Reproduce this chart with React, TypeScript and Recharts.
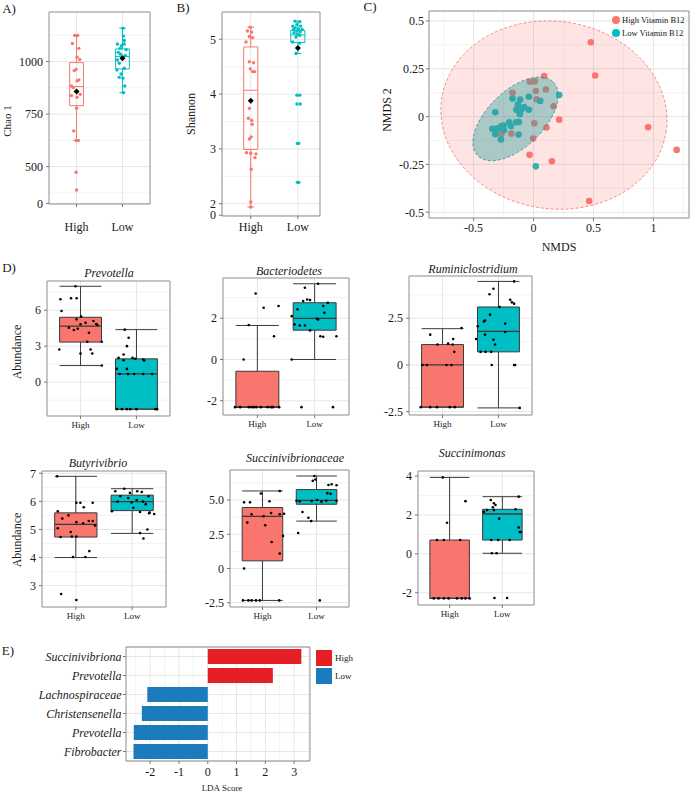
import React from "react";
import {
  Bar,
  BarChart,
  CartesianGrid,
  Cell,
  ComposedChart,
  ReferenceArea,
  ReferenceLine,
  Scatter,
  XAxis,
  YAxis,
} from "recharts";

const RED = "#F8766D";
const TEAL = "#00BFC4";
const BAR_RED = "#E41F26";
const BAR_BLUE = "#1B7BBD";
const INK = "#1a1a1a";
const FRAME = "#8c8c8c";
const GRID = "#e6e6e6";
const GRID_MINOR = "#f3f3f3";
const FONT = "'Liberation Serif', 'Times New Roman', serif";

const groups = ["High", "Low"];
const groupColors = [RED, TEAL];

// [jitter offset from the group centre, value]
type Pt = [number, number];
// lower whisker, q1, median, q3, upper whisker
type Box = [number, number, number, number, number];
type Frame = [number, number, number, number];

// A) Chao 1
const chaoTicks = [325, 500, 750, 1000];
const chaoTickLabels = ["0", "500", "750", "1000"];
const chaoMinor = [375, 625, 875, 1125];
const chaoBoxes: Box[] = [
  [624, 790, 881, 995, 1124],
  [852, 965, 1024, 1060, 1159],
];
const chaoMeans = [857, 1016];
const chaoHigh: Pt[] = [
  [-0.04, 1124], [0.02, 1124], [-0.09, 1086], [0.05, 1063], [0.01, 1021], [0.07, 1010],
  [-0.01, 963], [-0.05, 957], [0.05, 913], [0.01, 908], [-0.11, 884], [-0.07, 876],
  [0.08, 844], [-0.11, 838], [0.01, 830], [0, 778], [-0.06, 670], [-0.01, 624],
  [0.04, 624], [-0.01, 473], [0, 389],
];
const chaoLow: Pt[] = [
  [0.01, 1159], [0.02, 1122], [0.04, 1100], [-0.11, 1084], [0.04, 1084], [-0.02, 1076],
  [-0.05, 1063], [0.08, 1056], [-0.09, 1044], [-0.04, 1035], [0.06, 1029], [0.01, 1021],
  [-0.11, 1008], [-0.07, 992], [0.04, 968], [-0.12, 960], [-0.03, 941], [-0.07, 925],
  [0.01, 921], [0.05, 884], [0.02, 852],
];

// B) Shannon
const shannonTicks = [1.79, 2, 3, 4, 5];
const shannonTickLabels = ["0", "2", "3", "4", "5"];
const shannonMinor = [2.5, 3.5, 4.5];
const shannonBoxes: Box[] = [
  [1.94, 2.99, 4.07, 4.86, 5.22],
  [4.74, 4.94, 5.08, 5.16, 5.33],
];
const shannonMeans = [3.88, 4.84];
const shannonHigh: Pt[] = [
  [-0.01, 5.22], [-0.07, 5.15], [0.02, 5.13], [-0.03, 5.05], [0.04, 5.03], [-0.1, 4.95],
  [-0.03, 4.59], [0.06, 4.57], [-0.01, 4.46], [0.08, 4.41], [0.04, 4.41], [-0.03, 3.74],
  [-0.05, 3.56], [0.02, 3.52], [0.03, 3.45], [0.01, 3.22], [-0.03, 3.18], [-0.09, 2.93],
  [0, 2.92], [0.11, 2.91], [0.09, 2.84], [0.01, 2.63], [0, 2.03], [0, 1.94],
];
const shannonLow: Pt[] = [
  [-0.06, 5.33], [0.04, 5.32], [-0.02, 5.27], [-0.11, 5.24], [0.06, 5.24], [-0.06, 5.21],
  [0.01, 5.19], [-0.09, 5.18], [0.09, 5.18], [-0.02, 5.15], [0.05, 5.13], [-0.08, 5.12],
  [-0.01, 5.09], [0.04, 5.07], [-0.04, 5.04], [-0.11, 4.95], [0.04, 4.93], [-0.04, 4.74],
  [-0.02, 3.98], [0.04, 3.98], [-0.02, 3.82], [0.05, 3.82], [-0.01, 3.1], [0.02, 3.1],
  [-0.01, 2.39], [0.02, 2.39],
];

// C) NMDS
const nmdsXTicks = [-0.5, 0, 0.5, 1];
const nmdsYTicks = [-0.5, -0.25, 0, 0.25, 0.5];
const nmdsXMinor = [-0.75, -0.25, 0.25, 0.75, 1.25];
const nmdsYMinor = [-0.375, -0.125, 0.125, 0.375];
const nmdsHigh: Pt[] = [
  [0.478, 0.389], [0.514, 0.215], [0.089, 0.212], [-0.031, 0.182], [0.011, 0.184],
  [-0.175, 0.125], [0.019, 0.134], [0.103, 0.142], [0.025, 0.09], [0.167, 0.054],
  [0.214, -0.016], [0.006, -0.035], [0.108, -0.057], [0.956, -0.056], [1.194, -0.174],
  [-0.186, -0.089], [-0.269, -0.092], [-0.003, -0.115], [-0.033, -0.2], [0.153, -0.234],
  [0.464, -0.441], [-0.119, 0.033],
];
const nmdsLow: Pt[] = [
  [-0.319, 0.023], [-0.175, 0.094], [-0.111, 0.089], [-0.039, 0.104], [0.056, 0.082],
  [0.214, 0.113], [-0.131, 0.063], [-0.078, 0.05], [-0.144, 0.036], [-0.103, 0.036],
  [-0.039, 0.036], [-0.114, 0.012], [-0.344, -0.064], [-0.308, -0.063], [-0.267, -0.05],
  [-0.25, -0.047], [-0.203, -0.03], [-0.189, -0.05], [-0.144, -0.03], [-0.122, -0.028],
  [-0.319, -0.092], [-0.247, -0.071], [-0.272, -0.12], [-0.125, -0.094], [0.019, -0.26],
  [-0.286, -0.061],
];
// centre x, centre y, half-width, half-height, tilt (deg)
const ellipseHigh = [0.17, 0.008, 0.946, 0.49, 8];
const ellipseLow = [-0.15, -0.012, 0.44, 0.146, -44];

// D) taxa abundance
const prevotellaBoxes: Box[] = [
  [1.38, 3.34, 4.68, 5.41, 8.0],
  [-2.26, -2.26, 0.68, 1.94, 4.38],
];
const prevotellaHigh: Pt[] = [
  [-0.09, 8.0], [-0.36, 6.92], [-0.17, 7.0], [-0.07, 7.0], [-0.34, 5.94], [0.01, 5.47],
  [-0.07, 5.24], [0, 4.82], [0.09, 4.96], [0.23, 5.1], [0.28, 4.85], [-0.21, 4.54],
  [-0.12, 4.35], [-0.05, 4.46], [0.15, 4.12], [0.3, 4.77], [0.12, 3.37], [0.38, 3.37],
  [-0.38, 2.72], [0, 2.39], [0.18, 2.72], [0.21, 2.39], [0.38, 1.38],
];
const prevotellaLow: Pt[] = [
  [-0.21, 4.38], [-0.14, 3.7], [-0.17, 3.0], [-0.23, 2.3], [-0.32, 2.02], [-0.07, 2.02],
  [-0.02, 1.94], [0.12, 1.88], [0.14, 1.8], [-0.23, 1.83], [-0.17, 1.1], [-0.35, 1.1],
  [-0.3, 0.68], [-0.15, 0.68], [-0.04, 0.68], [0.12, 0.68], [0.28, 0.68], [-0.35, -2.26],
  [-0.26, -2.26], [-0.17, -2.26], [-0.11, -2.26], [0, -2.26], [0.34, -2.26], [0.37, -2.26],
];

const bacteroBoxes: Box[] = [
  [-2.31, -2.31, -2.31, -0.57, 1.65],
  [0, 1.42, 1.99, 2.75, 3.67],
];
const bacteroHigh: Pt[] = [
  [-0.03, 3.2], [0.11, 2.51], [0.37, 2.59], [-0.15, 1.67], [0.29, 1.13], [-0.24, 0],
  [-0.39, -2.31], [-0.3, -2.31], [-0.15, -2.31], [-0.1, -2.31], [-0.06, -2.31],
  [-0.02, -2.31], [0.06, -2.31], [0.18, -2.31], [0.24, -2.31], [0.27, -2.31], [0.38, -2.31],
];
const bacteroLow: Pt[] = [
  [0.06, 3.67], [-0.17, 3.48], [-0.13, 2.91], [-0.08, 2.88], [-0.2, 2.83], [0.23, 2.75],
  [0.15, 2.59], [-0.3, 2.43], [0.17, 2.26], [-0.4, 2.1], [0.04, 1.97], [0.06, 1.94],
  [-0.35, 1.7], [-0.26, 1.65], [-0.17, 1.65], [-0.08, 1.41], [0.1, 1.13], [0.15, 1.1],
  [0.38, 1.13], [-0.4, 0], [-0.23, -2.31], [0.32, -2.31],
];

const ruminiBoxes: Box[] = [
  [-2.26, -2.26, 0, 1.09, 1.94],
  [-2.3, 0.7, 1.8, 3.1, 4.47],
];
const ruminiHigh: Pt[] = [
  [-0.22, 1.62], [-0.09, 1.09], [0.1, 1.14], [0.18, 1.09], [0.21, 0.7], [0.19, 1.39],
  [0.34, 1.98], [-0.36, 0], [-0.28, 0], [0.07, 0], [0.16, 0], [-0.39, -2.26],
  [-0.22, -2.26], [-0.1, -2.26], [0.13, -2.26], [0.22, -2.26],
];
const ruminiLow: Pt[] = [
  [0.28, 4.47], [-0.09, 4.08], [-0.16, 3.78], [0.21, 3.49], [0.24, 3.35], [0.28, 3.28],
  [0.02, 3.1], [-0.15, 2.69], [-0.26, 2.33], [-0.24, 2.38], [-0.37, 2.07], [0.12, 2.21],
  [-0.24, 1.62], [0.12, 1.76], [-0.4, 1.39], [-0.09, 1.35], [-0.06, 1.09], [-0.32, 0.7],
  [-0.23, 0.7], [-0.13, 0.7], [-0.12, 0], [0.28, 0], [0.3, 0], [0.38, -2.3],
];

const butyBoxes: Box[] = [
  [4.0, 4.73, 5.18, 5.59, 6.89],
  [4.86, 5.67, 5.99, 6.22, 6.45],
];
const butyHigh: Pt[] = [
  [-0.33, 6.89], [0.01, 5.95], [0.08, 5.95], [0.3, 5.95], [0.14, 5.79], [-0.32, 5.65],
  [-0.13, 5.5], [-0.24, 5.39], [0.01, 5.26], [0.13, 5.22], [0.23, 5.3], [0.3, 5.3],
  [0.34, 5.14], [-0.32, 5.04], [-0.09, 4.91], [-0.27, 4.73], [-0.07, 4.75], [0.01, 4.75],
  [-0.05, 4.02], [0.17, 4.02], [0.24, 4.23], [-0.26, 2.7], [0.01, 2.49],
];
const butyLow: Pt[] = [
  [-0.3, 6.36], [-0.14, 6.45], [-0.04, 6.3], [0.09, 6.36], [0.17, 6.33], [0.29, 6.18],
  [-0.21, 6.18], [-0.07, 6.12], [-0.01, 5.96], [0.08, 6.05], [0.19, 5.99], [0.24, 5.9],
  [0.02, 5.77], [-0.26, 5.99], [0.31, 5.6], [-0.36, 5.65], [0.14, 5.62], [0.3, 5.58],
  [0.39, 5.55], [0.14, 4.87], [0.27, 5.0], [0.2, 4.68],
];

const succBoxes: Box[] = [
  [-2.33, 0.56, 3.81, 4.45, 5.66],
  [3.46, 4.69, 4.98, 5.76, 6.75],
];
const succHigh: Pt[] = [
  [-0.03, 5.47], [0.32, 5.66], [-0.34, 4.83], [-0.23, 4.83], [0.13, 4.91], [-0.2, 3.96],
  [0.02, 3.81], [0.16, 4.05], [0.32, 3.96], [0.4, 4.0], [-0.28, 3.35], [0.05, 3.16],
  [0.17, 1.94], [0.32, 1.09], [0.38, 2.38], [-0.34, 0], [-0.36, -2.33], [-0.26, -2.33],
  [-0.2, -2.33], [-0.12, -2.33], [-0.05, -2.33], [0.31, -2.33],
];
const succLow: Pt[] = [
  [-0.04, 6.75], [-0.02, 6.5], [-0.07, 6.4], [0.22, 6.1], [0.28, 6.15], [0.37, 6.08],
  [0.2, 5.5], [0.26, 5.45], [-0.37, 4.95], [-0.31, 4.9], [-0.09, 4.93], [0.01, 5.0],
  [0.09, 4.88], [0.18, 4.95], [0.37, 4.95], [-0.26, 4.12], [-0.15, 3.71], [-0.1, 3.46],
  [-0.34, 2.59], [0.06, -2.33],
];

const smBoxes: Box[] = [
  [-2.29, -2.29, -2.29, 0.71, 3.93],
  [0.03, 0.71, 2.05, 2.29, 2.94],
];
const smHigh: Pt[] = [
  [-0.13, 3.93], [0.3, 2.71], [-0.05, 1.6], [-0.24, 0.71], [-0.11, 0.71], [0.2, 0.71],
  [-0.3, -2.29], [-0.21, -2.29], [-0.11, -2.29], [-0.02, -2.29], [0.14, -2.29],
  [0.23, -2.29], [0.3, -2.29], [0.38, -2.29],
];
const smLow: Pt[] = [
  [-0.22, 2.77], [-0.16, 2.6], [-0.13, 2.51], [-0.18, 2.39], [-0.35, 2.16], [-0.29, 2.25],
  [0.25, 2.29], [0.31, 2.94], [-0.16, 2.25], [-0.06, 1.81], [0.31, 1.36], [0.33, 1.12],
  [0.35, 1.12], [-0.21, 0.71], [-0.08, 0.71], [0.14, 0.71], [-0.2, 0.03], [-0.11, 0.03],
  [-0.15, -2.27], [0.09, -2.27],
];

// E) LEfSe
const ldaTaxa = ["Succinivibriona", "Prevotella", "Lachnospiraceae", "Christensenella", "Prevotella", "Fibrobacter"];
const ldaScores = [3.25, 2.26, -2.1, -2.29, -2.57, -2.58];
const ldaGroup = ["High", "High", "Low", "Low", "Low", "Low"];
const ldaTicks = [-2, -1, 0, 1, 2, 3];
const ldaMinor = [-2.5, -1.5, -0.5, 0.5, 1.5, 2.5, 3.5];

const YW = 44;
const XH = 30;
const MT = 4;
const MR = 4;

const dotShape = (r: number, fill: string) => (s: any) => (
  <circle cx={s.cx} cy={s.cy} r={r} fill={fill} />
);
const diamondShape = (s: any) => (
  <polygon
    points={`${s.cx},${s.cy - 3} ${s.cx + 3},${s.cy} ${s.cx},${s.cy + 3} ${s.cx - 3},${s.cy}`}
    fill="#000"
  />
);

function Txt(props: {
  x: number;
  y: number;
  size?: number;
  rot?: number;
  italic?: boolean;
  anchor?: "start" | "middle" | "end";
  children: React.ReactNode;
}) {
  const { x, y, size = 12, rot = 0, italic = false, anchor = "middle", children } = props;
  const tx = anchor === "middle" ? "-50%" : anchor === "end" ? "-100%" : "0";
  return (
    <div
      style={{
        position: "absolute",
        left: x,
        top: y,
        transform: `translate(${tx}, -50%) rotate(${rot}deg)`,
        fontSize: size,
        fontStyle: italic ? "italic" : "normal",
        whiteSpace: "nowrap",
        lineHeight: 1,
        color: INK,
      }}
    >
      {children}
    </div>
  );
}

interface BoxPanelProps {
  frame: Frame;
  xDomain?: [number, number];
  yDomain: [number, number];
  yTicks: number[];
  yTickLabels: string[];
  yMinor: number[];
  boxes: Box[];
  points: Pt[][];
  means?: number[];
  filled?: boolean;
  xFont?: number;
  xGap?: number;
}

function BoxPanel({
  frame,
  xDomain = [0.4, 2.6],
  yDomain,
  yTicks,
  yTickLabels,
  yMinor,
  boxes,
  points,
  means,
  filled = false,
  xFont = 9,
  xGap = 3,
}: BoxPanelProps) {
  const [fx, fy, fw, fh] = frame;
  const boxHalf = filled ? 0.375 : 0.15;
  const capHalf = filled ? 0.375 : 0.07;
  const dotR = filled ? 1.3 : 1.7;

  const marks: React.ReactNode[] = [];
  boxes.forEach(([lo, q1, med, q3, hi], i) => {
    const c = i + 1;
    const line = filled ? "#3a3a3a" : groupColors[i];
    marks.push(
      <ReferenceLine key={`wl${i}`} segment={[{ x: c, y: lo }, { x: c, y: q1 }]} stroke={line} strokeWidth={1} />,
      <ReferenceLine key={`wh${i}`} segment={[{ x: c, y: q3 }, { x: c, y: hi }]} stroke={line} strokeWidth={1} />,
      <ReferenceLine key={`cl${i}`} segment={[{ x: c - capHalf, y: lo }, { x: c + capHalf, y: lo }]} stroke={line} strokeWidth={1} />,
      <ReferenceLine key={`ch${i}`} segment={[{ x: c - capHalf, y: hi }, { x: c + capHalf, y: hi }]} stroke={line} strokeWidth={1} />,
      <ReferenceArea
        key={`b${i}`}
        x1={c - boxHalf}
        x2={c + boxHalf}
        y1={q1}
        y2={q3}
        fill={filled ? groupColors[i] : "#fff"}
        fillOpacity={filled ? 1 : 0}
        stroke={line}
        strokeWidth={1}
      />,
      <ReferenceLine
        key={`m${i}`}
        segment={[{ x: c - boxHalf, y: med }, { x: c + boxHalf, y: med }]}
        stroke={line}
        strokeWidth={filled ? 1.3 : 1}
      />
    );
  });

  return (
    <div style={{ position: "absolute", left: fx - YW, top: fy - MT }}>
      <ComposedChart width={YW + fw + MR} height={MT + fh + XH} margin={{ top: MT, right: MR, bottom: 0, left: 0 }}>
        <CartesianGrid horizontalValues={yMinor} vertical={false} stroke={GRID_MINOR} />
        <CartesianGrid horizontalValues={yTicks} verticalValues={[1, 2]} stroke={GRID} />
        <XAxis
          type="number"
          dataKey="x"
          domain={xDomain}
          allowDataOverflow
          ticks={[1, 2]}
          interval={0}
          tickFormatter={(v: number) => groups[v - 1]}
          height={XH}
          axisLine={false}
          tickSize={3}
          tickMargin={xGap}
          tickLine={{ stroke: "#777" }}
          tick={{ fill: INK, fontSize: xFont }}
        />
        <YAxis
          type="number"
          dataKey="y"
          domain={yDomain}
          allowDataOverflow
          ticks={yTicks}
          interval={0}
          tickFormatter={(v: number) => yTickLabels[yTicks.indexOf(v)] ?? String(v)}
          width={YW}
          axisLine={false}
          tickSize={3}
          tickMargin={3}
          tickLine={{ stroke: "#777" }}
          tick={{ fill: INK, fontSize: 12 }}
        />
        {marks}
        {points.map((pts, i) => (
          <Scatter
            key={`p${i}`}
            data={pts.map(([dx, v]) => ({ x: i + 1 + dx, y: v }))}
            shape={dotShape(dotR, filled ? "#000" : groupColors[i])}
            isAnimationActive={false}
          />
        ))}
        {means && (
          <Scatter data={means.map((m, i) => ({ x: i + 1, y: m }))} shape={diamondShape} isAnimationActive={false} />
        )}
        <ReferenceArea
          x1={xDomain[0]}
          x2={xDomain[1]}
          y1={yDomain[0]}
          y2={yDomain[1]}
          fill="none"
          stroke={FRAME}
          ifOverflow="visible"
        />
      </ComposedChart>
    </div>
  );
}

const ellipseShape = (tilt: number, color: string, fill: string, opacity: number) => (s: any) => {
  const cx = s.x + s.width / 2;
  const cy = s.y + s.height / 2;
  return (
    <ellipse
      cx={cx}
      cy={cy}
      rx={Math.abs(s.width) / 2}
      ry={Math.abs(s.height) / 2}
      transform={`rotate(${tilt} ${cx} ${cy})`}
      fill={fill}
      fillOpacity={opacity}
      stroke={color}
      strokeWidth={0.8}
      strokeDasharray="3 2"
    />
  );
};

function NmdsPanel() {
  const [fx, fy, fw, fh] = [429, 11, 260, 207];
  const xDomain: [number, number] = [-0.872, 1.297];
  const yDomain: [number, number] = [-0.53, 0.552];
  const [hx, hy, hw, hh, ht] = ellipseHigh;
  const [lx, ly, lw, lh, lt] = ellipseLow;
  return (
    <div style={{ position: "absolute", left: fx - YW, top: fy - MT }}>
      <ComposedChart width={YW + fw + MR} height={MT + fh + XH} margin={{ top: MT, right: MR, bottom: 0, left: 0 }}>
        <CartesianGrid horizontalValues={nmdsYMinor} verticalValues={nmdsXMinor} stroke={GRID_MINOR} />
        <CartesianGrid horizontalValues={nmdsYTicks} verticalValues={nmdsXTicks} stroke={GRID} />
        <XAxis
          type="number"
          dataKey="x"
          domain={xDomain}
          allowDataOverflow
          ticks={nmdsXTicks}
          interval={0}
          height={XH}
          axisLine={false}
          tickSize={3}
          tickMargin={2.5}
          tickLine={{ stroke: "#777" }}
          tick={{ fill: INK, fontSize: 12 }}
        />
        <YAxis
          type="number"
          dataKey="y"
          domain={yDomain}
          allowDataOverflow
          ticks={nmdsYTicks}
          interval={0}
          width={YW}
          axisLine={false}
          tickSize={3}
          tickMargin={2}
          tickLine={{ stroke: "#777" }}
          tick={{ fill: INK, fontSize: 12 }}
        />
        <Scatter data={nmdsHigh.map(([x, y]) => ({ x, y }))} shape={dotShape(3.3, RED)} isAnimationActive={false} />
        <Scatter data={nmdsLow.map(([x, y]) => ({ x, y }))} shape={dotShape(3.3, TEAL)} isAnimationActive={false} />
        <ReferenceArea
          x1={hx - hw}
          x2={hx + hw}
          y1={hy - hh}
          y2={hy + hh}
          shape={ellipseShape(ht, RED, RED, 0.2)}
          zIndex={700}
        />
        <ReferenceArea
          x1={lx - lw}
          x2={lx + lw}
          y1={ly - lh}
          y2={ly + lh}
          shape={ellipseShape(lt, "#1a9a9e", "#2E9E9E", 0.4)}
          zIndex={710}
        />
        <ReferenceArea
          x1={xDomain[0]}
          x2={xDomain[1]}
          y1={yDomain[0]}
          y2={yDomain[1]}
          fill="none"
          stroke={FRAME}
          ifOverflow="visible"
          zIndex={720}
        />
      </ComposedChart>
    </div>
  );
}

function LdaPanel() {
  const [fx, fy, fw, fh] = [126, 647, 184, 114];
  const data = ldaTaxa.map((t, i) => ({ row: i, taxon: t, score: ldaScores[i] }));
  return (
    <div style={{ position: "absolute", left: 0, top: fy - MT }}>
      <BarChart
        layout="vertical"
        width={fx + fw + MR}
        height={MT + fh + XH}
        data={data}
        margin={{ top: MT, right: MR, bottom: 0, left: 0 }}
      >
        <CartesianGrid verticalValues={ldaMinor} horizontal={false} stroke={GRID_MINOR} />
        <CartesianGrid verticalValues={ldaTicks} stroke={GRID} />
        <XAxis
          type="number"
          domain={[-2.84, 3.55]}
          allowDataOverflow
          ticks={ldaTicks}
          interval={0}
          height={XH}
          axisLine={false}
          tickSize={3}
          tickMargin={3.5}
          tickLine={{ stroke: "#777" }}
          tick={{ fill: INK, fontSize: 12 }}
        />
        <YAxis
          type="category"
          dataKey="row"
          width={fx}
          axisLine={false}
          interval={0}
          tickSize={3}
          tickMargin={1.5}
          tickFormatter={(v: number) => ldaTaxa[v]}
          tickLine={{ stroke: "#777" }}
          tick={{ fill: INK, fontSize: 12, fontStyle: "italic" }}
        />
        <Bar dataKey="score" barSize={15} isAnimationActive={false}>
          {data.map((d, i) => (
            <Cell key={d.row} fill={ldaGroup[i] === "High" ? BAR_RED : BAR_BLUE} />
          ))}
        </Bar>
        <ReferenceArea x1={-2.84} x2={3.55} fill="none" stroke={FRAME} ifOverflow="visible" />
      </BarChart>
    </div>
  );
}

export default function App() {
  return (
    <div
      style={{
        position: "absolute",
        left: 0,
        top: 0,
        width: 691,
        height: 793,
        background: "#fff",
        fontFamily: FONT,
        color: INK,
        overflow: "hidden",
      }}
    >
      {/* A */}
      <BoxPanel
        frame={[49, 12, 101, 192]}
        yDomain={[322, 1236]}
        yTicks={chaoTicks}
        yTickLabels={chaoTickLabels}
        yMinor={chaoMinor}
        boxes={chaoBoxes}
        points={[chaoHigh, chaoLow]}
        means={chaoMeans}
        xFont={12}
        xGap={15}
      />
      {/* B */}
      <BoxPanel
        frame={[222, 12, 98, 204]}
        xDomain={[0.39, 2.47]}
        yDomain={[1.776, 5.497]}
        yTicks={shannonTicks}
        yTickLabels={shannonTickLabels}
        yMinor={shannonMinor}
        boxes={shannonBoxes}
        points={[shannonHigh, shannonLow]}
        means={shannonMeans}
        xFont={12}
        xGap={3.5}
      />
      <NmdsPanel />

      {/* D, top row */}
      <BoxPanel
        frame={[47, 281, 123, 135]}
        yDomain={[-2.83, 8.44]}
        yTicks={[0, 3, 6]}
        yTickLabels={["0", "3", "6"]}
        yMinor={[-1.5, 1.5, 4.5, 7.5]}
        boxes={prevotellaBoxes}
        points={[prevotellaHigh, prevotellaLow]}
        filled
      />
      <BoxPanel
        frame={[223, 278, 126, 137]}
        yDomain={[-2.69, 3.95]}
        yTicks={[-2, 0, 2]}
        yTickLabels={["-2", "0", "2"]}
        yMinor={[-1, 1, 3]}
        boxes={bacteroBoxes}
        points={[bacteroHigh, bacteroLow]}
        filled
      />
      <BoxPanel
        frame={[409, 276, 123, 139]}
        yDomain={[-2.68, 4.76]}
        yTicks={[-2.5, 0, 2.5]}
        yTickLabels={["-2.5", "0", "2.5"]}
        yMinor={[-1.25, 1.25, 3.75]}
        boxes={ruminiBoxes}
        points={[ruminiHigh, ruminiLow]}
        filled
      />

      {/* D, bottom row */}
      <BoxPanel
        frame={[42, 471, 124, 136]}
        yDomain={[2.24, 7.08]}
        yTicks={[3, 4, 5, 6, 7]}
        yTickLabels={["3", "4", "5", "6", "7"]}
        yMinor={[3.5, 4.5, 5.5, 6.5]}
        boxes={butyBoxes}
        points={[butyHigh, butyLow]}
        filled
      />
      <BoxPanel
        frame={[230, 470, 119, 137]}
        yDomain={[-2.81, 7.19]}
        yTicks={[-2.5, 0, 2.5, 5]}
        yTickLabels={["-2.5", "0", "2.5", "5.0"]}
        yMinor={[-1.25, 1.25, 3.75, 6.25]}
        boxes={succBoxes}
        points={[succHigh, succLow]}
        filled
      />
      <BoxPanel
        frame={[418, 471, 116, 134]}
        yDomain={[-2.63, 4.26]}
        yTicks={[-2, 0, 2, 4]}
        yTickLabels={["-2", "0", "2", "4"]}
        yMinor={[-1, 1, 3]}
        boxes={smBoxes}
        points={[smHigh, smLow]}
        filled
      />

      <LdaPanel />

      {/* panel letters */}
      <Txt x={9} y={8} size={13}>A)</Txt>
      <Txt x={183} y={7} size={13}>B)</Txt>
      <Txt x={370} y={6} size={13}>C)</Txt>
      <Txt x={9} y={267} size={13}>D)</Txt>
      <Txt x={8} y={650} size={13}>E)</Txt>

      {/* axis titles */}
      <Txt x={7} y={121} size={11} rot={-90}>Chao 1</Txt>
      <Txt x={191} y={114} size={12} rot={-90}>Shannon</Txt>
      <Txt x={387} y={110} size={12} rot={-90}>NMDS 2</Txt>
      <Txt x={559} y={247} size={12}>NMDS</Txt>
      <Txt x={17} y={352} size={12} rot={-90}>Abundance</Txt>
      <Txt x={17} y={540} size={12} rot={-90}>Abundance</Txt>
      <Txt x={222} y={788} size={9}>LDA Score</Txt>

      {/* D titles */}
      <Txt x={109} y={273} size={12} italic>Prevotella</Txt>
      <Txt x={289} y={271} size={12} italic>Bacteriodetes</Txt>
      <Txt x={473} y={269} size={12} italic>Ruminiclostridium</Txt>
      <Txt x={98} y={463} size={12} italic>Butyrivibrio</Txt>
      <Txt x={295} y={458} size={12} italic>Succinivibrionaceae</Txt>
      <Txt x={472} y={453} size={12} italic>Succinimonas</Txt>

      {/* C legend */}
      <div style={{ position: "absolute", left: 612, top: 16, width: 8, height: 8, borderRadius: 4, background: RED }} />
      <div style={{ position: "absolute", left: 612, top: 29, width: 8, height: 8, borderRadius: 4, background: TEAL }} />
      <Txt x={622} y={20} size={8.5} anchor="start">High Vitamin B12</Txt>
      <Txt x={622} y={33} size={8.5} anchor="start">Low Vitamin B12</Txt>

      {/* E legend */}
      <div style={{ position: "absolute", left: 316, top: 650, width: 16, height: 16, background: BAR_RED }} />
      <div style={{ position: "absolute", left: 316, top: 668, width: 16, height: 16, background: BAR_BLUE }} />
      <Txt x={335} y={658} size={9} anchor="start">High</Txt>
      <Txt x={335} y={676} size={9} anchor="start">Low</Txt>
    </div>
  );
}
